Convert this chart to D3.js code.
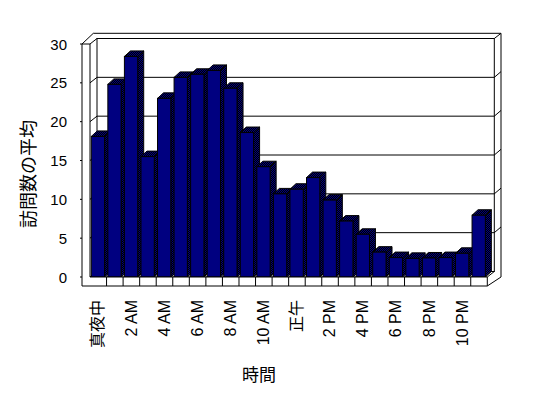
<!DOCTYPE html>
<html>
<head>
<meta charset="utf-8">
<script src="https://cdn.jsdelivr.net/npm/d3@7"></script>
<style>
  body { margin: 0; background: white; }
  text { font-family: "Liberation Sans", "Noto Sans CJK JP", sans-serif; fill: black; }
</style>
</head>
<body>
<div id="viz-container"></div>
<script>
// 時間ごとの訪問数の平均
let hours = ["真夜中", "1 AM", "2 AM", "3 AM", "4 AM", "5 AM", "6 AM", "7 AM", "8 AM", "9 AM", "10 AM", "11 AM",
             "正午", "1 PM", "2 PM", "3 PM", "4 PM", "5 PM", "6 PM", "7 PM", "8 PM", "9 PM", "10 PM", "11 PM"];
let visits = [18.1, 24.8, 28.4, 15.5, 23.0, 25.7, 26.1, 26.6, 24.3, 18.6, 14.2, 10.7,
              11.3, 12.8, 9.9, 7.2, 5.5, 3.2, 2.5, 2.4, 2.45, 2.5, 3.05, 7.95];
let yTicks = [0, 5, 10, 15, 20, 25, 30];
let xTickLabels = hours.filter((d, i) => i % 2 == 0);

let width = 548, height = 398;
// front plane and depth offsets (Excel style 3D)
let wallX = 82, plotL = 90, plotR = 487.3;
let depthX = 7, depthY = -5.5;
let barDX = 6, barDY = -5.5;
let floorH = 9;

let viz = d3.select("#viz-container")
  .append("svg")
  .attr("width", width)
  .attr("height", height)
;

let defs = viz.append("defs");
let pat = defs.append("pattern")
  .attr("id", "dither")
  .attr("width", 2).attr("height", 2)
  .attr("patternUnits", "userSpaceOnUse");
pat.append("rect").attr("width", 2).attr("height", 2).attr("fill", "#000000");
pat.append("rect").attr("x", 0).attr("y", 0).attr("width", 1).attr("height", 1).attr("fill", "#000080");
pat.append("rect").attr("x", 1).attr("y", 1).attr("width", 1).attr("height", 1).attr("fill", "#000080");

let x = d3.scaleBand().domain(hours).range([plotL, plotR]).paddingInner(0);
let y = d3.scaleLinear().domain([0, 30]).range([277, 44]);

let barOff = 1.3;
let barW = 13.3;

let frame = viz.append("g").attr("fill", "none").attr("stroke", "black").attr("stroke-width", 1);

let backL = plotL + depthX, backR = plotR + depthX;
let top0 = y(30);

// back wall
frame.append("rect")
  .attr("x", backL).attr("y", top0 + depthY)
  .attr("width", backR - backL).attr("height", y(0) - y(30))
  .attr("fill", "white");
// outer wall edges
frame.append("polyline")
  .attr("points", [[wallX, top0], [wallX + 11.3, top0 - 10.7], [backR + 6.7, top0 - 10.7], [backR + 6.7, y(0) + depthY + 5.5],
    [plotR, y(0) + floorH]].join(" "));
frame.append("line")
  .attr("x1", backR).attr("y1", top0 + depthY)
  .attr("x2", backR + 6.7).attr("y2", top0 - 10.7);
frame.append("line")
  .attr("x1", plotL).attr("y1", top0)
  .attr("x2", backL).attr("y2", top0 + depthY);

// gridlines on back wall, left wall and right edge
let grid = yTicks.filter(d => d > 0 && d < 30);
frame.selectAll(".grid").data(grid).enter().append("line")
  .attr("x1", backL).attr("x2", backR)
  .attr("y1", d => y(d) + depthY).attr("y2", d => y(d) + depthY);
frame.selectAll(".gridside").data(grid).enter().append("polyline")
  .attr("points", d => [[wallX, y(d)], [plotL, y(d)], [backL, y(d) + depthY]].join(" "));
frame.selectAll(".gridright").data(grid).enter().append("line")
  .attr("x1", backR).attr("x2", backR + 6.7)
  .attr("y1", d => y(d) + depthY).attr("y2", d => y(d) + depthY - 5.7);

// floor top
frame.append("polygon")
  .attr("points", [[plotL, y(0)], [backL, y(0) + depthY], [backR, y(0) + depthY], [plotR, y(0)]].join(" "))
  .attr("fill", "white");

// bars
let bars = viz.selectAll(".bar").data(visits).enter().append("g")
  .attr("stroke", "black").attr("stroke-width", 1);

function bx(d, i){
  return x(hours[i]) + barOff;
}

bars.append("polygon")
  .attr("fill", "url(#dither)")
  .attr("points", (d, i) => {
    let x0 = bx(d, i) + barW;
    return [[x0, y(d)], [x0 + barDX, y(d) + barDY], [x0 + barDX, y(0) + barDY], [x0, y(0)]].join(" ");
  });
bars.append("polygon")
  .attr("fill", "url(#dither)")
  .attr("points", (d, i) => {
    let x0 = bx(d, i);
    return [[x0, y(d)], [x0 + barDX, y(d) + barDY], [x0 + barW + barDX, y(d) + barDY], [x0 + barW, y(d)]].join(" ");
  });
bars.append("rect")
  .attr("fill", "#000080")
  .attr("x", bx)
  .attr("y", d => y(d))
  .attr("width", barW)
  .attr("height", d => y(0) - y(d));

// left wall front and floor front face
let front = viz.append("g").attr("stroke", "black").attr("stroke-width", 1);
front.append("polygon")
  .attr("fill", "white")
  .attr("points", [[wallX, top0], [plotL, top0], [plotL, y(0)], [plotR, y(0)], [plotR, y(0) + floorH], [wallX, y(0) + floorH]].join(" "));
front.selectAll(".div").data(hours.slice(1)).enter().append("line")
  .attr("x1", d => x(d)).attr("x2", d => x(d))
  .attr("y1", y(0)).attr("y2", y(0) + floorH);

// y axis ticks and labels
front.selectAll(".tick").data(yTicks).enter().append("line")
  .attr("x1", wallX - 2).attr("x2", wallX)
  .attr("y1", d => y(d)).attr("y2", d => y(d));
viz.selectAll(".ylab").data(yTicks).enter().append("text")
  .attr("x", 67)
  .attr("y", d => y(d))
  .attr("text-anchor", "end")
  .attr("dominant-baseline", "central")
  .style("font-size", "15px")
  .text(d => d);

// x labels, rotated
viz.selectAll(".xlab").data(xTickLabels).enter().append("text")
  .attr("transform", d => "translate(" + (x(d) + barOff + barW / 2) + ",300) rotate(-90)")
  .attr("text-anchor", "end")
  .attr("dominant-baseline", "central")
  .style("font-size", "16px")
  .text(d => d);

// axis titles
viz.append("text")
  .attr("transform", "translate(29,174) rotate(-90)")
  .attr("text-anchor", "middle")
  .attr("dominant-baseline", "central")
  .style("font-size", "18px")
  .text("訪問数の平均");
viz.append("text")
  .attr("x", 259).attr("y", 375)
  .attr("text-anchor", "middle")
  .attr("dominant-baseline", "central")
  .style("font-size", "17px")
  .text("時間");
</script>
</body>
</html>
